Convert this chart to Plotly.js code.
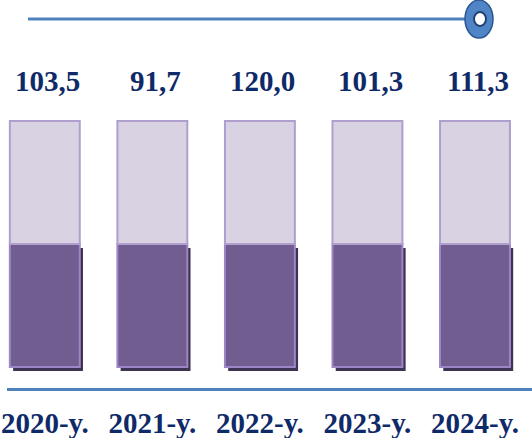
<!DOCTYPE html>
<html><head><meta charset="utf-8">
<script src="https://cdn.plot.ly/plotly-3.0.1.min.js"></script>
<style>html,body{margin:0;padding:0;background:#fff}#chart{width:532px;height:438px}</style>
</head><body><div id="chart"></div>
<script>
// Data
const years = ['2020-y.', '2021-y.', '2022-y.', '2023-y.', '2024-y.'];
const values = [103.5, 91.7, 120.0, 101.3, 111.3];
// Each column is drawn as an equal "glass": a dark lower half and a light upper half
const lowerPart = [50, 50, 50, 50, 50];
const upperPart = [50, 50, 50, 50, 50];

const navy = '#0f2a68';
const blue = '#4f81bd';
const serif = '"Liberation Serif", "Times New Roman", serif';
const barW = 0.65;

const totals = lowerPart.map((v, i) => v + upperPart[i]);

const shadow = {
  type: 'bar', x: years, y: lowerPart, base: lowerPart.map(() => -1.6),
  width: barW, offset: -barW / 2 + 0.03,
  marker: {color: '#3f3354', line: {width: 0}},
  hoverinfo: 'skip', showlegend: false
};
const lower = {
  type: 'bar', x: years, y: lowerPart, base: lowerPart.map(() => 0),
  width: barW,
  marker: {color: '#725d90', line: {color: '#9d86c6', width: 2}},
  hoverinfo: 'skip', showlegend: false
};
const upper = {
  type: 'bar', x: years, y: upperPart, base: lowerPart,
  width: barW,
  marker: {color: '#d8d2e3', line: {color: '#ae9fce', width: 2}},
  hoverinfo: 'skip', showlegend: false
};

const annotations = years.map((yr, i) => ({
  x: yr, y: totals[i], xref: 'x', yref: 'y',
  text: '<b>' + values[i].toFixed(1).replace('.', ',') + '</b>',
  showarrow: false, yanchor: 'middle', yshift: 40, xshift: 3,
  font: {family: serif, size: 29, color: navy}
}));

const layout = {
  width: 532, height: 438,
  margin: {l: 7, r: 0, t: 0, b: 50, pad: 0},
  paper_bgcolor: '#ffffff', plot_bgcolor: '#ffffff',
  barmode: 'overlay',
  showlegend: false,
  xaxis: {
    type: 'category', range: [-0.3515, 4.530],
    tickvals: years, ticktext: years.map(t => '<b>' + t + '</b>'),
    showline: true, linecolor: blue, linewidth: 3,
    showgrid: false, zeroline: false, ticks: '',
    ticklabelstandoff: 7,
    tickfont: {family: serif, size: 29, color: navy}
  },
  yaxis: {
    range: [-8.54, 149.2], visible: false, showgrid: false, zeroline: false
  },
  annotations: annotations,
  shapes: [
    {type: 'line', xref: 'paper', yref: 'paper', x0: 0.04, x1: 0.8724, y0: 0.951, y1: 0.951,
     line: {color: blue, width: 3}},
    {type: 'circle', xref: 'paper', yref: 'paper', x0: 0.8724, x1: 0.9257, y0: 0.902, y1: 1.0,
     fillcolor: '#4f84c6', line: {color: '#2b5791', width: 1.5}},
    {type: 'circle', xref: 'paper', yref: 'paper', x0: 0.8895, x1: 0.9124, y0: 0.9330, y1: 0.9690,
     fillcolor: '#ffffff', line: {color: '#1f4173', width: 2}}
  ]
};

Plotly.newPlot('chart', [shadow, lower, upper], layout, {displayModeBar: false, staticPlot: true});
</script>
</body></html>
